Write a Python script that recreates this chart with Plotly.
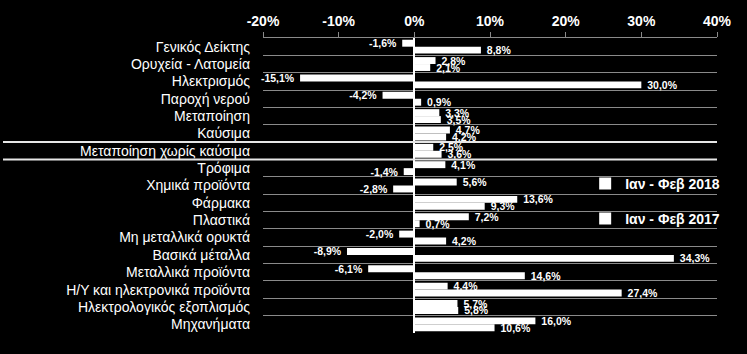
import plotly.graph_objects as go

categories = [
    "Γενικός Δείκτης", "Ορυχεία - Λατομεία", "Ηλεκτρισμός", "Παροχή νερού",
    "Μεταποίηση", "Καύσιμα", "Μεταποίηση χωρίς καύσιμα", "Τρόφιμα",
    "Χημικά προϊόντα", "Φάρμακα", "Πλαστικά", "Μη μεταλλικά ορυκτά",
    "Βασικά μέταλλα", "Μεταλλικά προϊόντα", "Η/Υ και ηλεκτρονικά προϊόντα",
    "Ηλεκτρολογικός εξοπλισμός", "Μηχανήματα",
]
values_2018 = [-1.6, 2.8, -15.1, -4.2, 3.3, 4.7, 2.5, 4.1, 5.6, 13.6, 7.2,
               -2.0, -8.9, -6.1, 4.4, 5.7, 16.0]
values_2017 = [8.8, 2.1, 30.0, 0.9, 3.5, 4.2, 3.6, -1.4, -2.8, 9.3, 0.7,
               4.2, 34.3, 14.6, 27.4, 5.8, 10.6]
series_names = ["Ιαν - Φεβ 2018", "Ιαν - Φεβ 2017"]
tick_vals = [-20, -10, 0, 10, 20, 30, 40]
tick_text = ["-20%", "-10%", "0%", "10%", "20%", "30%", "40%"]
highlight_category = "Μεταποίηση χωρίς καύσιμα"

FONT = "Liberation Sans, Arial, sans-serif"
W, H = 747, 354
ML, MR, MT, MB = 263, 30, 38, 21


def fmt(v):
    s = f"{v:.1f}%".replace(".", ",")
    return (" " + s) if v >= 0 else (s + " ")


fig = go.Figure()
for i, (name, vals) in enumerate(zip(series_names, [values_2018, values_2017])):
    fig.add_trace(go.Bar(
        y=categories, x=vals, orientation="h", name=name,
        marker=dict(color="#ffffff", line=dict(width=0)),
        text=[fmt(v) for v in vals], textposition="outside",
        constraintext="none", cliponaxis=False,
        textfont=dict(family=FONT, size=10.5, color="#ffffff", weight="bold"),
        legendgroup=f"g{i}",
    ))

hi = categories.index(highlight_category)
plot_w = W - ML - MR
for yb in (hi - 0.5, hi + 0.5):
    fig.add_shape(type="line", xref="paper", yref="y",
                  x0=-(ML - 3) / plot_w, x1=1, y0=yb, y1=yb,
                  line=dict(color="#e6e6e6", width=2), layer="above")

fig.update_layout(
    width=W, height=H,
    margin=dict(l=ML, r=MR, t=MT, b=MB, pad=0),
    paper_bgcolor="#000000", plot_bgcolor="#000000",
    barmode="group", bargap=0.2, bargroupgap=0,
    font=dict(family=FONT, color="#ffffff"),
    legend=dict(
        x=1.018, xanchor="right", y=0.56, yanchor="top",
        bgcolor="rgba(0,0,0,0)", traceorder="grouped", tracegroupgap=14,
        font=dict(family=FONT, size=14, color="#ffffff", weight="bold"),
        itemwidth=30,
    ),
    xaxis=dict(
        side="top", range=[-20, 40], tickvals=tick_vals, ticktext=tick_text,
        showgrid=False, zeroline=True, zerolinecolor="#ffffff", zerolinewidth=2,
        showline=True, linecolor="#8a8a8a", linewidth=1,
        ticks="outside", ticklen=5, tickcolor="#8a8a8a",
        tickfont=dict(family=FONT, size=14, color="#ffffff", weight="bold"),
        fixedrange=True,
    ),
    yaxis=dict(
        type="category", autorange="reversed", tickson="boundaries",
        showgrid=True, gridcolor="#8a8a8a", gridwidth=1, ticks="",
        tickfont=dict(family=FONT, size=14, color="#ffffff"),
        ticklabelstandoff=12, showline=False, zeroline=False,
    ),
)

fig.write_html("out.html")
